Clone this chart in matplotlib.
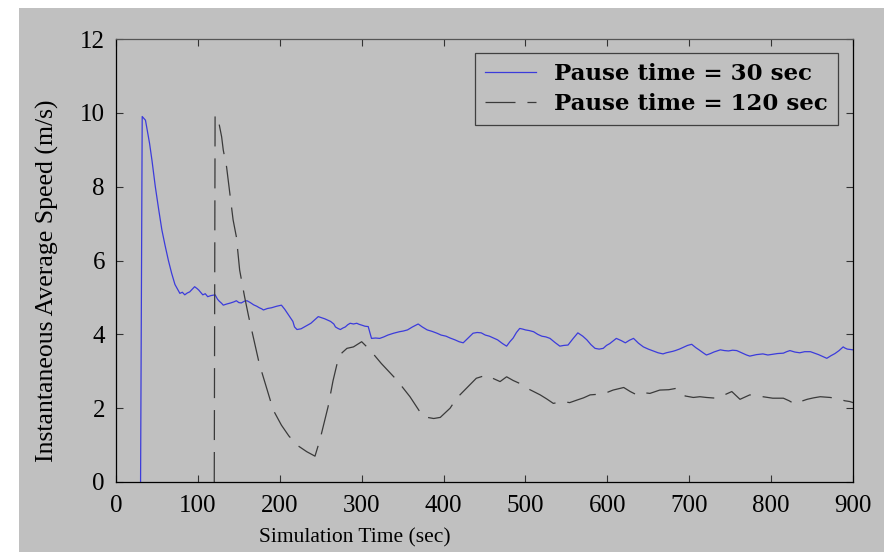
import matplotlib
matplotlib.use('Agg')
import matplotlib.pyplot as plt
from matplotlib.patches import Rectangle

plt.rcParams['font.family'] = ['Liberation Serif', 'DejaVu Serif']
plt.rcParams['lines.scale_dashes'] = False

# pause time = 30 sec
t30 = [30, 32, 36, 41, 44, 48, 52, 56, 60, 64, 68, 72, 78, 81, 84, 87, 90, 93, 96,
       99, 101, 104, 106, 109, 112, 116, 121, 124, 126, 129, 131, 135, 140, 144,
       147, 150, 153, 157, 160, 164, 168, 172, 175, 178, 180, 185, 190, 196, 202,
       206, 210, 213, 216, 218, 221, 226, 230, 234, 238, 242, 247, 251, 255, 259,
       262, 266, 268, 271, 274, 277, 280, 283, 286, 290, 294, 297, 300, 304, 308,
       310, 312, 317, 322, 327, 332, 339, 346, 351, 356, 362, 369, 374, 380, 386,
       392, 397, 403, 408, 414, 419, 424, 430, 436, 441, 446, 451, 456, 461, 466,
       472, 477, 481, 485, 489, 493, 497, 500, 505, 510, 515, 520, 525, 530, 536,
       542, 547, 552, 558, 564, 570, 575, 580, 585, 590, 595, 599, 603, 607, 611,
       617, 622, 627, 632, 638, 644, 650, 656, 662, 668, 672, 676, 680, 683, 688,
       693, 698, 703, 708, 712, 717, 721, 726, 730, 734, 738, 743, 748, 753, 758,
       762, 766, 770, 774, 778, 782, 786, 790, 796, 802, 808, 815, 819, 823, 829,
       835, 841, 848, 853, 858, 863, 868, 873, 878, 883, 888, 890, 893, 897, 900]
v30 = [0, 9.9, 9.8, 9.17, 8.7, 8.0, 7.4, 6.83, 6.4, 6.0, 5.65, 5.35, 5.11, 5.14,
       5.07, 5.12, 5.15, 5.22, 5.29, 5.24, 5.2, 5.12, 5.07, 5.1, 5.02, 5.05, 5.07,
       4.95, 4.9, 4.84, 4.79, 4.82, 4.85, 4.88, 4.91, 4.86, 4.85, 4.9, 4.91, 4.86,
       4.8, 4.76, 4.72, 4.69, 4.66, 4.7, 4.72, 4.76, 4.79, 4.68, 4.55, 4.45, 4.35,
       4.2, 4.13, 4.15, 4.2, 4.25, 4.3, 4.38, 4.48, 4.45, 4.42, 4.38, 4.35, 4.28,
       4.2, 4.16, 4.13, 4.17, 4.2, 4.26, 4.3, 4.28, 4.3, 4.27, 4.25, 4.22, 4.21,
       4.05, 3.89, 3.9, 3.89, 3.93, 3.98, 4.03, 4.07, 4.09, 4.12, 4.2, 4.28, 4.2,
       4.12, 4.08, 4.03, 3.98, 3.95, 3.9, 3.85, 3.8, 3.77, 3.9, 4.03, 4.05, 4.04,
       3.98, 3.95, 3.9, 3.85, 3.75, 3.68, 3.8, 3.9, 4.05, 4.16, 4.14, 4.12, 4.1,
       4.07, 4.0, 3.95, 3.93, 3.89, 3.78, 3.68, 3.7, 3.71, 3.88, 4.04, 3.95, 3.85,
       3.72, 3.62, 3.6, 3.62, 3.7, 3.75, 3.82, 3.89, 3.83, 3.77, 3.84, 3.89, 3.76,
       3.66, 3.6, 3.55, 3.5, 3.47, 3.5, 3.52, 3.54, 3.56, 3.6, 3.65, 3.7, 3.73,
       3.64, 3.58, 3.5, 3.44, 3.48, 3.52, 3.55, 3.58, 3.56, 3.55, 3.57, 3.56, 3.52,
       3.48, 3.44, 3.41, 3.43, 3.45, 3.46, 3.47, 3.44, 3.46, 3.48, 3.49, 3.53, 3.56,
       3.52, 3.5, 3.53, 3.53, 3.49, 3.45, 3.4, 3.35, 3.42, 3.48, 3.56, 3.66, 3.63,
       3.6, 3.59, 3.58]

# pause time = 120 sec
t120 = [120, 121, 125, 129, 131, 135, 139, 143, 147, 151, 157, 162, 168, 175, 184,
        192, 202, 211, 221, 233, 243, 249, 253, 259, 265, 271, 276, 282, 290, 300,
        310, 324, 343, 359, 375, 388, 396, 408, 416, 428, 440, 453, 461, 469, 477,
        485, 493, 501, 510, 518, 526, 534, 546, 554, 563, 571, 579, 591, 599, 607,
        620, 628, 636, 644, 652, 664, 675, 685, 695, 705, 713, 721, 733, 742, 752,
        762, 774, 782, 790, 802, 815, 822, 829, 836, 844, 852, 860, 866, 872, 878,
        884, 890, 896, 900]
v120 = [0, 9.94, 9.8, 9.35, 8.99, 8.54, 7.82, 7.1, 6.64, 5.74, 5.02, 4.48, 3.89, 3.2,
        2.54, 1.95, 1.54, 1.25, 1.0, 0.82, 0.7, 1.14, 1.5, 2.04, 2.74, 3.3, 3.5, 3.62,
        3.66, 3.8, 3.58, 3.21, 2.76, 2.31, 1.77, 1.72, 1.75, 2.0, 2.27, 2.54, 2.81,
        2.9, 2.8, 2.72, 2.85, 2.75, 2.67, 2.55, 2.45, 2.36, 2.25, 2.13, 2.18, 2.15,
        2.22, 2.28, 2.36, 2.38, 2.42, 2.49, 2.56, 2.45, 2.36, 2.42, 2.4, 2.49, 2.5,
        2.54, 2.33, 2.29, 2.31, 2.29, 2.27, 2.35, 2.45, 2.24, 2.36, 2.33, 2.31, 2.27,
        2.27, 2.2, 2.11, 2.18, 2.24, 2.28, 2.31, 2.3, 2.29, 2.27, 2.24, 2.2, 2.18,
        2.15]

x_ticks = list(range(0, 901, 100))
y_ticks = list(range(0, 13, 2))

gray = '#c0c0c0'
W, H = 884, 552

fig = plt.figure(figsize=(W / 100, H / 100), dpi=100, facecolor='white')
fig.patches.append(Rectangle((19 / W, 0), 1, 1 - 8 / H, transform=fig.transFigure,
                             facecolor=gray, edgecolor='none', zorder=-10))

ax = fig.add_axes([116 / W, 1 - 482 / H, (853 - 116) / W, (482 - 39) / H])
ax.set_facecolor(gray)

ax.plot(t30, v30, color='#3b3bdb', lw=0.9, label='Pause time = 30 sec')
ax.plot(t120, v120, color='#3a3a3a', lw=0.9, dashes=(21.6, 8.6),
        label='Pause time = 120 sec')

ax.set_xlim(0, 900)
ax.set_ylim(0, 12)
ax.set_xticks(x_ticks)
ax.set_yticks(y_ticks)
ax.tick_params(direction='in', length=5, width=0.8, colors='#333333',
               labelcolor='black', labelsize=18, top=True, right=True)
ax.tick_params(axis='x', pad=9)
ax.tick_params(axis='y', pad=8)
for side in ['left', 'bottom', 'right']:
    ax.spines[side].set_color('black')
    ax.spines[side].set_linewidth(0.9)
ax.spines['top'].set_color('#555555')
ax.spines['top'].set_linewidth(0.9)

fig.text(47 / W, 1 - 281 / H, 'Instantaneous Average Speed (m/s)', fontsize=18.5,
         rotation=90, ha='center', va='center')
fig.text(355 / W, 1 - 538 / H, 'Simulation Time (sec)', fontsize=15.5,
         ha='center', va='center')

leg = ax.legend(loc='upper right', bbox_to_anchor=(0.98, 0.968),
                prop={'family': 'DejaVu Serif', 'weight': 'bold', 'size': 16.5},
                fancybox=False, handlelength=2.2, handletextpad=0.8,
                borderpad=0.45, labelspacing=0.31, borderaxespad=0)
leg.get_frame().set_facecolor(gray)
leg.get_frame().set_edgecolor('#404040')
leg.get_frame().set_linewidth(0.9)
leg.get_frame().set_alpha(1)

plt.savefig('out.png', dpi=100, facecolor=fig.get_facecolor())
